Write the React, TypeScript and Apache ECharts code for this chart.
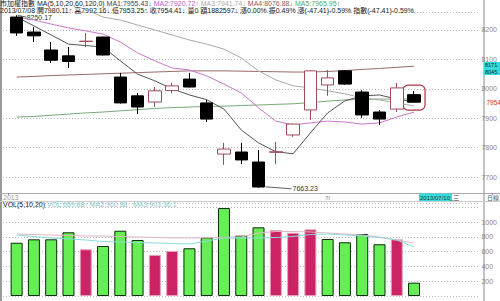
import React, { useEffect, useRef } from 'react';
import * as echarts from 'echarts';

const dates = ['2013/06/04','2013/06/05','2013/06/06','2013/06/07','2013/06/10','2013/06/11','2013/06/13','2013/06/14','2013/06/17','2013/06/18','2013/06/19','2013/06/20','2013/06/21','2013/06/24','2013/06/25','2013/06/26','2013/06/27','2013/06/28','2013/07/01','2013/07/02','2013/07/03','2013/07/04','2013/07/05','2013/07/08'];
const futureSlots = [' ', '  ', '   ', '    '];

const opens  = [8244, 8193, 8132, 8112, 8161, 8176, 8040, 7976, 7955, 7994, 8033, 7952, 7778, 7785, 7751, 7784, 7843, 7928, 8013, 8061, 7989, 7921, 7931, 7980.11];
const closes = [8190, 8180, 8097, 8093, 8162, 8115, 7952, 7938, 7993, 8010, 8006, 7897, 7795, 7758, 7666, 7786, 7880, 8061, 8037, 8016, 7911, 7897, 8003, 7954.41];
const lows   = [8180, 8159, 8088, 8071, 8142, 8113, 7950, 7914, 7938, 7985, 8004, 7887, 7741, 7744, 7663.23, 7744, 7836, 7894, 7976, 8014, 7901, 7877, 7921, 7953.25];
const highs  = [8250.17, 8210, 8159, 8142, 8190, 8178, 8054, 7986, 8006, 8020, 8054, 7962, 7816, 7816, 7792, 7819, 7882, 8063, 8064, 8063, 7996, 7928, 8020, 7992.16];

const ma5   = [8244, 8214, 8183, 8152, 8147, 8142, 8095, 8050, 8027, 8000, 7979, 7963, 7931, 7860, 7816, 7786, 7779, 7850, 7918, 7959, 7976, 7979, 7965, 7955.43];
const ma10  = [8244, 8234, 8220, 8207, 8197, 8186, 8159, 8122, 8095, 8071, 8064, 8044, 8016, 7986, 7935, 7890, 7877, 7884, 7890, 7887, 7880, 7884, 7904, 7920.72];
const ma20  = [null, null, null, 8290, 8270, 8244, 8234, 8217, 8200, 8183, 8166, 8152, 8135, 8105, 8061, 8030, 8010, 8003, 7993, 7983, 7969, 7962, 7952, 7941.74];
const ma60  = [8040, 8042, 8045, 8047, 8049, 8051, 8053, 8055, 8057, 8059, 8061, 8061, 8061, 8060, 8059, 8058, 8057, 8057, 8059, 8062, 8066, 8069, 8073, 8076.88];
const ma120 = [7904, 7906, 7910, 7914, 7918, 7921, 7925, 7929, 7933, 7936, 7938, 7940, 7941, 7943, 7945, 7947, 7949, 7953, 7958, 7962, 7964, 7965, 7965, 7965.95];

const volumes = [720, 766, 766, 861, 631, 676, 882, 757, 554, 608, 645, 788, 1189, 815, 928, 892, 855, 901, 770, 726, 838, 699, 766, 180];
const volMa5  = [824, 804, 784, 770, 757, 736, 730, 723, 716, 709, 703, 743, 784, 784, 784, 791, 804, 831, 838, 824, 811, 791, 757, 662];
const volMa10 = [838, 831, 824, 818, 811, 811, 804, 797, 791, 784, 784, 784, 791, 797, 851, 872, 872, 865, 851, 838, 824, 797, 757, 716];

const priceTicks = [8200, 8100, 8000, 7900, 7800, 7700];
const volTicks = [1000, 800, 600, 400, 200, 0];

const FONT = '"Liberation Sans", "Noto Sans CJK TC", sans-serif';

export default function App() {
  const ref = useRef<HTMLDivElement>(null);
  useEffect(() => {
    const chart = echarts.init(ref.current!, null, { renderer: 'svg' });
    const cats = [...dates, ...futureSlots];
    const pMin = 7645.6, pMax = 8261.2;
    const vMax = 1256.8;
    const candleData = opens.map((o, i) => [o, closes[i], lows[i], highs[i]]);
    const volData = volumes.map((v, i) => ({
      value: v,
      itemStyle: (i > 0 && closes[i] >= closes[i - 1])
        ? { color: '#cc2266', borderColor: '#e8a0b8', borderWidth: 1 }
        : { color: '#66ee55', borderColor: '#0b2a0b', borderWidth: 1 },
    }));
    const dispY = (min: number, max: number, ticks: number[], gi: number) => ({
      type: 'value', gridIndex: gi, position: 'right', min, max, splitNumber: 6,
      axisLine: { show: false },
      axisTick: { show: true, length: 2, lineStyle: { color: '#999' } },
      axisLabel: {
        show: true, fontSize: 7, color: '#888', margin: 3, fontFamily: FONT,
        showMinLabel: false, showMaxLabel: false,
        formatter: (v: number) => (ticks.includes(v) ? String(v) : ''),
      },
      splitLine: { show: true, lineStyle: { color: '#bbbbbb', type: [1, 2], width: 1 } },
    });
    const hidY = (min: number, max: number, gi: number) => ({
      type: 'value', gridIndex: gi, min, max, show: false, splitLine: { show: false },
    });
    const lineS = (data: any[], color: string, xi: number, yi: number) => ({
      type: 'line', data, xAxisIndex: xi, yAxisIndex: yi, symbol: 'none',
      lineStyle: { color, width: 1 }, silent: true, z: 3,
    });
    chart.setOption({
      animation: false,
      backgroundColor: '#ffffff',
      grid: [
        { left: 0, right: 16, top: 12, bottom: 108 },
        { left: 8, right: 8.2, top: 12, bottom: 108 },
        { left: 0, right: 16, top: 203, bottom: 5 },
        { left: 8, right: 8.2, top: 203, bottom: 5 },
      ],
      xAxis: [
        { type: 'value', gridIndex: 0, min: 0, max: 1, show: false },
        {
          type: 'category', gridIndex: 1, data: cats, boundaryGap: true,
          axisLine: { show: false },
          axisTick: { show: true, length: 2, interval: (i: number) => i === 13, lineStyle: { color: '#888' } },
          axisLabel: { show: true, interval: 0, fontSize: 6, color: '#777', margin: 2, fontFamily: FONT,
            formatter: (_v: string, i: number) => (i === 18 ? '7/' : '') },
        },
        { type: 'value', gridIndex: 2, min: 0, max: 1, show: false },
        { type: 'category', gridIndex: 3, data: cats, boundaryGap: true, show: false },
      ],
      yAxis: [
        dispY(pMin, pMax, priceTicks, 0),
        hidY(pMin, pMax, 1),
        dispY(0, vMax, volTicks, 2),
        hidY(0, vMax, 3),
      ],
      series: [
        lineS(ma120, '#77aa77', 1, 1),
        lineS(ma60, '#9a6a6a', 1, 1),
        lineS(ma20, '#aaaaaa', 1, 1),
        lineS(ma10, '#cc77cc', 1, 1),
        lineS(ma5, '#555555', 1, 1),
        {
          type: 'candlestick', xAxisIndex: 1, yAxisIndex: 1, data: candleData, barWidth: 13, z: 5,
          itemStyle: { color: '#ffffff', color0: '#000000', borderColor: '#a04a5a', borderColor0: '#000000', borderWidth: 1 },
        },
        { type: 'bar', xAxisIndex: 3, yAxisIndex: 3, data: volData, barWidth: 12, z: 2 },
        lineS(volMa10, '#e0b8c0', 3, 3),
        lineS(volMa5, '#88dddd', 3, 3),
      ],
    });

    const px = (i: number, v: number) => chart.convertToPixel({ gridIndex: 1 }, [i, v]) as number[];
    const last = closes.length - 1;
    const hi0 = px(0, highs[0]);
    const lowIdx = lows.indexOf(Math.min(...lows));
    const lo = px(lowIdx, lows[lowIdx]);
    const lh = px(last, highs[last]);
    const ll = px(last, lows[last]);
    const lc = px(last, closes[last]);
    const axisX = 484;
    const small = { fontSize: 7, fontFamily: FONT };
    const tiny = { fontSize: 5.5, fontFamily: FONT };
    chart.setOption({
      graphic: [
        { type: 'line', shape: { x1: 1, y1: 0, x2: 1, y2: 301 }, style: { stroke: '#999', lineWidth: 2 }, silent: true },
        { type: 'line', shape: { x1: axisX, y1: 0, x2: axisX, y2: 301 }, style: { stroke: '#888', lineWidth: 1 }, silent: true },
        { type: 'line', shape: { x1: 0, y1: 193.5, x2: 500, y2: 193.5 }, style: { stroke: '#aaa', lineWidth: 1 }, silent: true },
        { type: 'line', shape: { x1: 0, y1: 201.5, x2: 500, y2: 201.5 }, style: { stroke: '#ccc', lineWidth: 1 }, silent: true },
        { type: 'text', x: 3, y: 197, style: { text: '2013', fill: '#999', ...small, verticalAlign: 'middle' }, silent: true },
        { type: 'rect', shape: { x: 419, y: 193.5, width: 33, height: 7.5 }, style: { fill: '#33dddd' }, silent: true },
        { type: 'text', x: 420, y: 197.5, style: { text: '2013/07/10_三', fill: '#333', fontSize: 6, fontFamily: FONT, verticalAlign: 'middle' }, silent: true },
        { type: 'text', x: 487, y: 197.5, style: { text: '日線', fill: '#555', fontSize: 6, fontFamily: FONT, verticalAlign: 'middle' }, silent: true },
        { type: 'rect', shape: { x: 484, y: 62, width: 16, height: 13 }, style: { fill: '#33dddd' }, silent: true },
        { type: 'text', x: 485, y: 65, style: { text: '8171.', fill: '#223', ...tiny, verticalAlign: 'middle' }, silent: true },
        { type: 'text', x: 485, y: 72, style: { text: '8045.', fill: '#223', ...tiny, verticalAlign: 'middle' }, silent: true },
        { type: 'text', x: axisX + 2.5, y: lc[1], style: { text: String(Math.floor(closes[last])), fill: '#cc3333', fontSize: 6.5, fontFamily: FONT, verticalAlign: 'middle' }, silent: true },
        { type: 'line', shape: { x1: hi0[0] + 1, y1: hi0[1], x2: hi0[0] + 10, y2: hi0[1] + 2 }, style: { stroke: '#333', lineWidth: 0.8 }, silent: true },
        { type: 'text', x: hi0[0] + 10, y: hi0[1] + 2, style: { text: String(highs[0]), fill: '#333', ...small, verticalAlign: 'middle' }, silent: true },
        { type: 'line', shape: { x1: lo[0] + 7, y1: lo[1] - 1, x2: lo[0] + 33, y2: lo[1] + 1 }, style: { stroke: '#333', lineWidth: 0.8 }, silent: true },
        { type: 'text', x: lo[0] + 34, y: lo[1] + 1, style: { text: lows[lowIdx].toFixed(2), fill: '#333', ...small, verticalAlign: 'middle' }, silent: true },
        { type: 'rect', shape: { x: lh[0] - 11, y: lh[1] - 6, width: 22, height: (ll[1] - lh[1]) + 13.5, r: 5 }, style: { fill: 'none', stroke: '#b03040', lineWidth: 1.2 }, silent: true },
        {
          type: 'text', x: 0, y: 3,
          style: {
            text: '{k|市加權指數 MA(5,10,20,60,120,0) }{a|MA1:7955.43↓ }{b|MA2:7920.72↑ }{c|MA3:7941.74↓ }{d|MA4:8076.88↓ }{e|MA5:7965.95↑}',
            verticalAlign: 'middle', ...small,
            rich: {
              k: { fill: '#222', ...small }, a: { fill: '#444', ...small }, b: { fill: '#cc55cc', ...small },
              c: { fill: '#aaaaaa', ...small }, d: { fill: '#995555', ...small }, e: { fill: '#55aa55', ...small },
            },
          }, silent: true,
        },
        { type: 'text', x: 0, y: 10, style: { text: '2013/07/08 開7980.11↑ 高7992.16↓ 低7953.25↑ 收7954.41↓ 量0 額1882597↓ 漲0.00% 振0.49% 漲(-47.41)-0.59% 指數(-47.41)-0.59%', fill: '#222', ...small, verticalAlign: 'middle' }, silent: true },
        {
          type: 'text', x: 3, y: 204,
          style: {
            text: '{k|VOL(5,10,20) }{a|VOL:659.88↑ }{b|MA2:960.88↑ }{c|MA3:903.36.1}',
            verticalAlign: 'middle', ...small,
            rich: { k: { fill: '#222', ...small }, a: { fill: '#88cccc', ...small }, b: { fill: '#88cccc', ...small }, c: { fill: '#88cccc', ...small } },
          }, silent: true,
        },
      ],
    });
    return () => chart.dispose();
  }, []);
  return <div ref={ref} style={{ position: 'absolute', left: 0, top: 0, width: 500, height: 301 }} />;
}
